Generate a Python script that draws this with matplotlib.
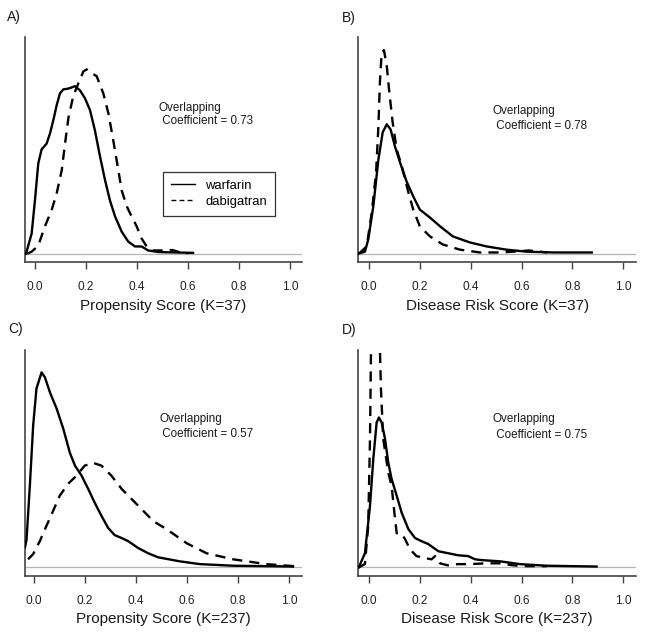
import matplotlib
matplotlib.use("Agg")
import matplotlib.pyplot as plt
from matplotlib.lines import Line2D

plt.rcParams['font.family'] = ['Liberation Sans', 'DejaVu Sans']

# panel A: propensity score, K=37
a_warf_x = [-0.035, -0.013, 0.0, 0.013, 0.026, 0.046, 0.059, 0.072, 0.085, 0.098, 0.111, 0.131,
            0.157, 0.176, 0.196, 0.216, 0.235, 0.255, 0.275, 0.294, 0.314, 0.34, 0.366, 0.392,
            0.418, 0.444, 0.484, 0.55, 0.62]
a_warf_y = [0, 0.5, 1.33, 2.25, 2.6, 2.75, 3.0, 3.33, 3.7, 4.0, 4.1, 4.12,
            4.18, 4.08, 3.88, 3.58, 3.08, 2.43, 1.83, 1.33, 0.93, 0.55, 0.3, 0.18,
            0.18, 0.08, 0.04, 0.03, 0.02]
a_dabi_x = [-0.03, -0.013, 0.013, 0.039, 0.065, 0.085, 0.105, 0.118, 0.131, 0.15, 0.17, 0.19,
            0.203, 0.216, 0.242, 0.268, 0.288, 0.307, 0.327, 0.34, 0.36, 0.379, 0.399, 0.418,
            0.438, 0.464, 0.5, 0.54, 0.57, 0.6]
a_dabi_y = [0, 0.05, 0.2, 0.68, 1.08, 1.5, 2.08, 2.75, 3.38, 3.93, 4.25, 4.55,
            4.6, 4.53, 4.43, 4.0, 3.5, 2.83, 2.08, 1.58, 1.18, 0.93, 0.68, 0.38,
            0.18, 0.08, 0.08, 0.09, 0.03, 0.01]

# panel B: disease risk score, K=37
b_warf_x = [-0.042, -0.016, -0.003, 0.017, 0.037, 0.054, 0.07, 0.085, 0.102, 0.122, 0.148,
            0.174, 0.2, 0.24, 0.28, 0.33, 0.397, 0.463, 0.54, 0.62, 0.725, 0.876]
b_warf_y = [0, 0.05, 0.35, 1.18, 2.35, 3.03, 3.23, 3.1, 2.68, 2.28, 1.8,
            1.43, 1.1, 0.9, 0.68, 0.43, 0.28, 0.18, 0.1, 0.05, 0.03, 0.03]
b_dabi_x = [-0.04, -0.009, 0.011, 0.028, 0.037, 0.043, 0.05, 0.059, 0.07, 0.08, 0.093, 0.109,
            0.129, 0.155, 0.174, 0.2, 0.24, 0.29, 0.358, 0.436, 0.515, 0.567, 0.63, 0.7]
b_dabi_y = [0, 0.18, 1.03, 2.03, 3.18, 4.28, 5.03, 5.08, 4.68, 4.03, 3.28, 2.6,
            2.18, 1.53, 1.1, 0.68, 0.43, 0.23, 0.1, 0.03, 0.03, 0.05, 0.08, 0.03]

# panel C: propensity score, K=237
c_warf_x = [-0.036, -0.03, -0.017, -0.004, 0.009, 0.029, 0.042, 0.062, 0.088, 0.114, 0.14, 0.16,
            0.186, 0.212, 0.238, 0.264, 0.29, 0.316, 0.343, 0.369, 0.408, 0.447, 0.486, 0.57,
            0.65, 0.78, 0.91, 1.015]
c_warf_y = [0.5, 0.69, 2.03, 3.53, 4.45, 4.85, 4.73, 4.35, 3.95, 3.45, 2.85, 2.53,
            2.28, 1.95, 1.6, 1.28, 0.98, 0.8, 0.73, 0.65, 0.48, 0.35, 0.25, 0.15,
            0.08, 0.04, 0.03, 0.02]
c_dabi_x = [-0.024, -0.004, 0.022, 0.048, 0.074, 0.1, 0.133, 0.166, 0.198, 0.231, 0.264,
            0.303, 0.343, 0.382, 0.421, 0.467, 0.519, 0.598, 0.676, 0.78, 0.91, 1.04]
c_dabi_y = [0.2, 0.33, 0.65, 1.03, 1.4, 1.78, 2.08, 2.28, 2.53, 2.6, 2.53,
            2.28, 1.95, 1.7, 1.45, 1.15, 0.95, 0.6, 0.35, 0.2, 0.08, 0.02]

# panel D: disease risk score, K=237
d_warf_x = [-0.04, -0.016, 0.004, 0.017, 0.03, 0.039, 0.05, 0.063, 0.076, 0.089, 0.109, 0.129,
            0.155, 0.181, 0.207, 0.233, 0.273, 0.312, 0.351, 0.39, 0.417, 0.443, 0.515, 0.594,
            0.699, 0.895]
d_warf_y = [0, 0.35, 1.53, 2.7, 3.6, 3.73, 3.6, 3.2, 2.6, 2.2, 1.78, 1.35,
            0.95, 0.73, 0.65, 0.58, 0.4, 0.35, 0.3, 0.28, 0.2, 0.18, 0.15, 0.08,
            0.04, 0.02]
d_dabi_x = [-0.04, -0.016, -0.003, 0.004, 0.008, 0.018, 0.034, 0.043, 0.047, 0.056, 0.076, 0.089,
            0.1, 0.109, 0.129, 0.142, 0.161, 0.187, 0.22, 0.246, 0.26, 0.279, 0.31, 0.35,
            0.397, 0.46, 0.515, 0.567, 0.62, 0.7]
d_dabi_y = [0, 0.08, 1.03, 3.2, 5.45, 7.5, 7.5, 5.45, 4.45, 3.2, 2.35, 2.03,
            1.35, 0.85, 0.83, 0.7, 0.45, 0.28, 0.23, 0.2, 0.28, 0.1, 0.05, 0.08,
            0.08, 0.1, 0.1, 0.05, 0.03, 0.03]

letters = ["A)", "B)", "C)", "D)"]
xlabels = ["Propensity Score (K=37)", "Disease Risk Score (K=37)",
           "Propensity Score (K=237)", "Disease Risk Score (K=237)"]
ovl = [0.73, 0.78, 0.57, 0.75]
series = [(a_warf_x, a_warf_y, a_dabi_x, a_dabi_y),
          (b_warf_x, b_warf_y, b_dabi_x, b_dabi_y),
          (c_warf_x, c_warf_y, c_dabi_x, c_dabi_y),
          (d_warf_x, d_warf_y, d_dabi_x, d_dabi_y)]

W, H = 645, 635
fig = plt.figure(figsize=(W / 100, H / 100), dpi=100)

# axes boxes in pixels: left, top, right, bottom
boxes = [(25, 37, 302, 262), (358.3, 37, 636, 262),
         (25, 350, 301.7, 575.7), (358.3, 350, 636, 575.7)]
xlims = [(-0.039, 1.047), (-0.042, 1.05), (-0.036, 1.049), (-0.042, 1.05)]
letter_pos = [(7.3, 20.5), (341.7, 21.7), (8.3, 332.7), (341.7, 334)]
txt_pos = [(0.486, 3.56, 3.23), (0.486, 3.48, 3.12), (0.49, 3.61, 3.25), (0.486, 3.61, 3.23)]

axcol = '#444444'
dash = (0, (4.3, 3.0))

for i in range(4):
    l, t, r, b = boxes[i]
    ax = fig.add_axes([l / W, 1 - b / H, (r - l) / W, (b - t) / H])
    wx, wy, dx, dy = series[i]
    ax.axhline(0, color='#b5b5b5', lw=0.9, zorder=1)
    ax.plot(wx, wy, color='black', lw=1.7, zorder=3)
    ax.plot(dx, dy, color='black', lw=1.7, linestyle=dash, zorder=3)
    ax.set_xlim(*xlims[i])
    ax.set_ylim(-0.208, 5.408)
    ax.set_yticks([])
    ax.set_xticks([0.0, 0.2, 0.4, 0.6, 0.8, 1.0])
    ax.set_xticklabels(["0.0", "0.2", "0.4", "0.6", "0.8", "1.0"])
    ax.tick_params(axis='x', direction='out', length=5.3, width=1, color=axcol,
                   pad=8.5, labelsize=8.6, labelcolor='#222222')
    for s in ['top', 'right']:
        ax.spines[s].set_visible(False)
    for s in ['left', 'bottom']:
        ax.spines[s].set_color(axcol)
        ax.spines[s].set_linewidth(1.2)
    ax.set_xlabel(xlabels[i], fontsize=11, color='#1a1a1a', labelpad=4)
    tx, ty1, ty2 = txt_pos[i]
    ax.text(tx, ty1, "Overlapping", fontsize=8.4, va='baseline', ha='left', color='#1a1a1a')
    ax.text(tx, ty2, " Coefficient = %.2f" % ovl[i], fontsize=8.4, va='baseline',
            ha='left', color='#1a1a1a')
    lx, ly = letter_pos[i]
    fig.text(lx / W, 1 - ly / H, letters[i], fontsize=10, va='baseline', ha='left',
             color='#1a1a1a')
    if i == 0:
        handles = [Line2D([], [], color='black', lw=1.0),
                   Line2D([], [], color='black', lw=1.0, linestyle=(0, (3.5, 2.3)))]
        leg = ax.legend(handles, ["warfarin", "dabigatran"], loc='upper left',
                        bbox_to_anchor=(163.3 / W, 1 - 171.7 / H),
                        bbox_transform=fig.transFigure, borderaxespad=0,
                        fontsize=9.4, frameon=True, fancybox=False, framealpha=1,
                        edgecolor='#333333', handlelength=1.8, handletextpad=0.8,
                        borderpad=0.6, labelspacing=0.3)
        leg.get_frame().set_linewidth(0.9)

fig.savefig("out.png", dpi=100)
